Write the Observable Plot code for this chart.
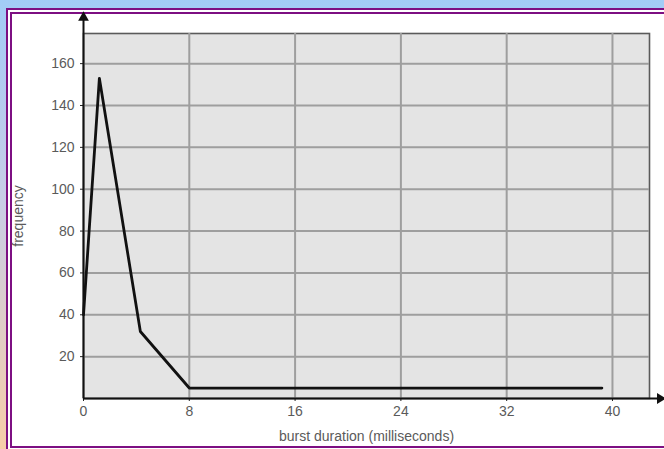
<!DOCTYPE html>
<html>
<head>
<meta charset="utf-8">
<script src="https://cdn.jsdelivr.net/npm/d3@7"></script>
<script src="https://cdn.jsdelivr.net/npm/@observablehq/plot@0.6"></script>
<style>
  html, body { margin: 0; padding: 0; }
  body {
    width: 664px; height: 449px; overflow: hidden; position: relative;
    background: linear-gradient(to bottom, #a2ccf6 0%, #c9cde6 45%, #f6cda8 100%);
    font-family: "Liberation Sans", Arial, sans-serif;
  }
  #frame {
    position: absolute; left: 6px; top: 8px; width: 720px; height: 432px;
    border: 6px double #7d0f82; background: #ffffff;
  }
  #chart { position: absolute; left: 0; top: 0; }
  #chart svg { background: transparent !important; }
</style>
</head>
<body>
<div id="frame"></div>
<div id="chart"></div>
<script>
// Data
const burstMs   = [0, 1.2, 4.3, 8, 39.2];
const frequency = [40, 153, 32, 5, 5];
const xTicks = [0, 8, 16, 24, 32, 40];
const yTicks = [20, 40, 60, 80, 100, 120, 140, 160];
const xGrid = [8, 16, 24, 32, 40];
const xLabel = "burst duration (milliseconds)";
const yLabel = "frequency";

const points = burstMs.map((b, i) => ({b, f: frequency[i]}));

const plot = Plot.plot({
  width: 664,
  height: 449,
  marginLeft: 83,
  marginRight: 15,
  marginTop: 33,
  marginBottom: 51,
  style: {background: "transparent", fontFamily: "'Liberation Sans', Arial, sans-serif", color: "#5a5a5a"},
  x: {domain: [0, 42.8]},
  y: {domain: [0, 174.4]},
  marks: [
    Plot.frame({fill: "#e4e4e4", stroke: "#5a5a5a", strokeWidth: 1.6}),
    Plot.ruleX(xGrid, {stroke: "#9e9e9e", strokeWidth: 2}),
    Plot.ruleY(yTicks, {stroke: "#9e9e9e", strokeWidth: 2}),
    Plot.axisX({ticks: xTicks, tickSize: 3, tickPadding: 5, fontSize: 14, stroke: "#222",
      label: xLabel, labelAnchor: "center", labelArrow: "none", labelOffset: 42}),
    Plot.axisY({ticks: yTicks, tickSize: 3, tickPadding: 6, fontSize: 14, stroke: "#222",
      label: yLabel, labelAnchor: "center", labelArrow: "none", labelOffset: 70}),
    Plot.ruleY([0], {x1: 0, x2: 43.5, stroke: "#111", strokeWidth: 2}),
    Plot.ruleX([0], {y1: 0, y2: 182, stroke: "#111", strokeWidth: 2}),
    Plot.dot([{x: 0, y: 182}], {x: "x", y: "y", symbol: "triangle", r: 4, fill: "#111", stroke: null}),
    Plot.dot([{x: 43.6, y: 0}], {x: "x", y: "y", symbol: "triangle", r: 4, rotate: 90, fill: "#111", stroke: null}),
    Plot.line(points, {x: "b", y: "f", stroke: "#111", strokeWidth: 2.8, strokeLinejoin: "round"})
  ]
});
document.getElementById("chart").appendChild(plot);
</script>
</body>
</html>
